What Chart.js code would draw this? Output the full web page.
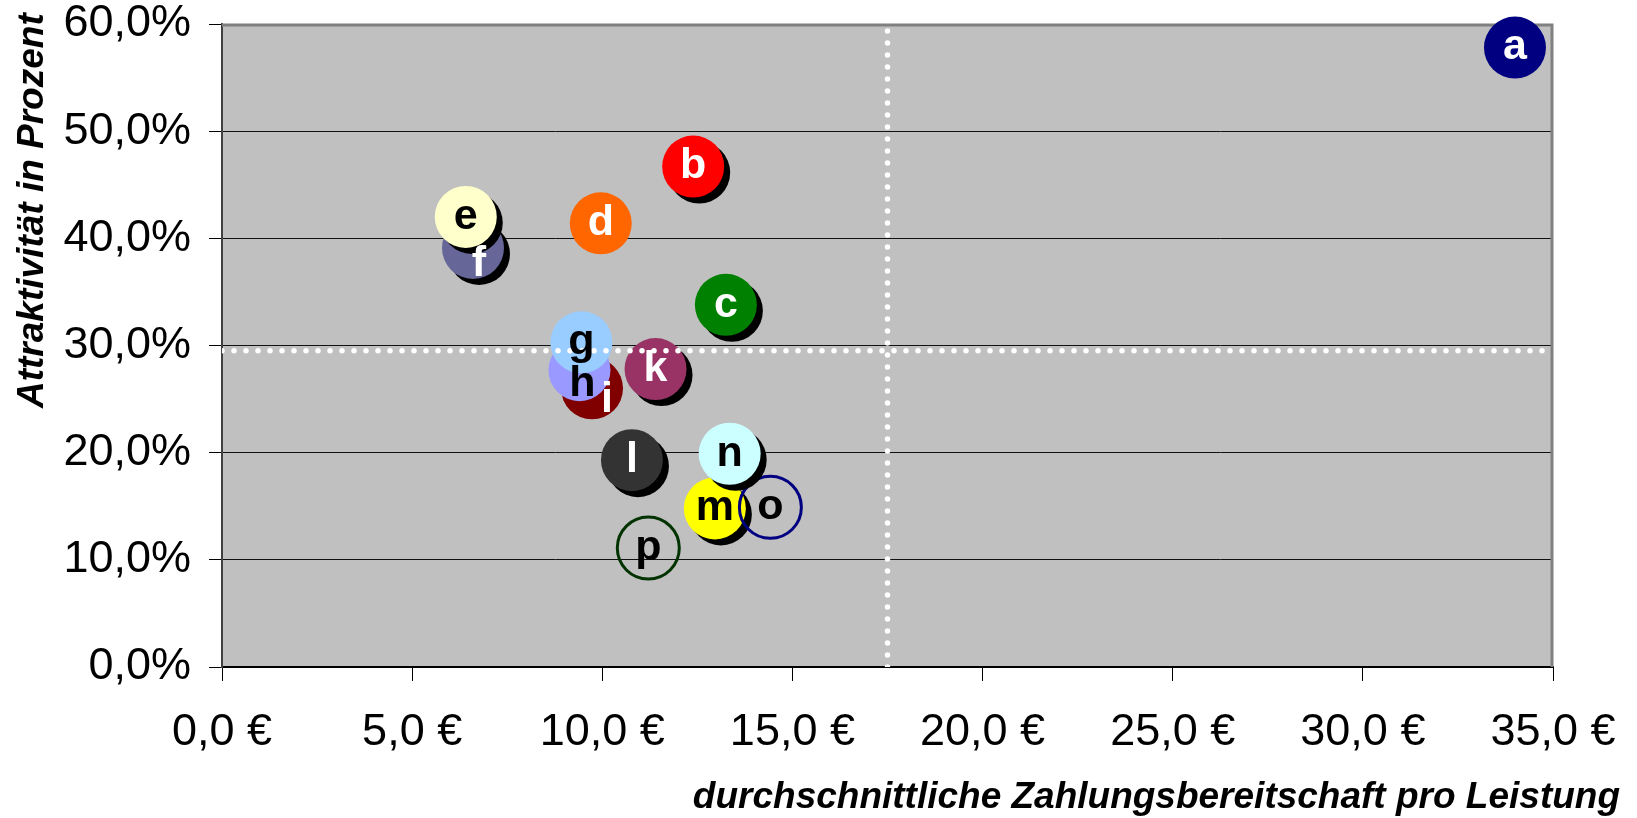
<!DOCTYPE html>
<html>
<head>
<meta charset="utf-8">
<script src="https://cdn.jsdelivr.net/npm/chart.js@4.4.0/dist/chart.umd.min.js"></script>
<style>
html, body { margin: 0; padding: 0; background: #fff; }
</style>
</head>
<body>
<canvas id="portfolio" width="1637" height="818"></canvas>
<script>
// Anbieter, listed in drawing order (first entry ends up on top)
const anbieter = ['a', 'b', 'c', 'd', 'e', 'f', 'g', 'h', 'i', 'k', 'l', 'n', 'o', 'm', 'p'];
// durchschnittliche Zahlungsbereitschaft in €
const preis = [34.0, 12.39, 13.25, 9.96, 6.41, 6.60, 9.45, 9.40, 9.73, 11.40, 10.78, 13.35, 14.42, 12.96, 11.21];
// Attraktivität in %
const attraktiv = [57.8, 46.7, 33.8, 41.4, 42.0, 39.1, 30.3, 27.7, 26.0, 27.8, 19.3, 19.9, 14.9, 14.8, 11.1];

// Mittelwerte (gepunktete Linien)
const avgPreis = 17.5;
const avgAttraktiv = 29.5;

// Achsen
const xRange = [0, 35];
const xStep = 5;
const yRange = [0, 60];
const yStep = 10;

// styles per point
const fills = ['#000080', '#FF0000', '#008000', '#FF6600', '#FFFFCC', '#666699', '#99CCFF', '#9999FF',
  '#800000', '#993366', '#333333', '#CCFFFF', 'rgba(0,0,0,0)', '#FFFF00', 'rgba(0,0,0,0)'];
const rings = ['#000080', '#FF0000', '#008000', '#FF6600', '#FFFFCC', '#666699', '#99CCFF', '#9999FF',
  '#800000', '#993366', '#333333', '#CCFFFF', '#000080', '#FFFF00', '#003300'];
const textColors = ['#fff', '#fff', '#fff', '#fff', '#000', '#fff', '#000', '#000',
  '#fff', '#fff', '#fff', '#000', '#000', '#000', '#000'];
const shadows = [false, true, true, false, true, true, false, false, false, true, true, true, false, true, false];
const labelDx = [0, 0, 0, 0, 0, 6, 0, 3, 15, 0, 0, 0, 0, 0, 0];
const labelDy = [0, 0, 0, 0, 0, 16, 0, 14, 12, 0, 0, 0, 0, 0, 0];

const FONT = "'Liberation Sans', Arial, sans-serif";

const pointSets = anbieter.map((name, i) => ({
    label: name,
    data: [{ x: preis[i], y: attraktiv[i] }],
    backgroundColor: fills[i],
    borderColor: rings[i],
    borderWidth: (i === 12 || i === 14) ? 3 : 0,
    pointRadius: 31,
    clip: false,
    shadow: shadows[i],
    tag: { color: textColors[i], dx: labelDx[i], dy: labelDy[i] },
}));

const dotted = {
    showLine: true,
    borderColor: '#ffffff',
    borderWidth: 5.5,
    borderDash: [0, 12],
    borderCapStyle: 'round',
    pointRadius: 0,
};

const lineSets = [
    Object.assign({ label: 'Mittelwert Attraktivität', data: [{ x: xRange[0], y: avgAttraktiv }, { x: xRange[1], y: avgAttraktiv }] }, dotted),
    Object.assign({ label: 'Mittelwert Zahlungsbereitschaft', data: [{ x: avgPreis, y: yRange[0] }, { x: avgPreis, y: yRange[1] }] }, dotted),
];

const plotStyle = {
    id: 'plotStyle',
    beforeDraw(chart) {
        const { ctx, chartArea: a } = chart;
        ctx.save();
        ctx.fillStyle = '#C0C0C0';
        ctx.fillRect(a.left, a.top, a.right - a.left, a.bottom - a.top);
        ctx.restore();
    },
    beforeDatasetsDraw(chart) {
        const { ctx, chartArea: a } = chart;
        ctx.save();
        ctx.strokeStyle = '#808080';
        ctx.lineWidth = 3;
        ctx.beginPath();
        ctx.moveTo(a.left, a.top + 1);
        ctx.lineTo(a.right - 1, a.top + 1);
        ctx.lineTo(a.right - 1, a.bottom);
        ctx.stroke();
        ctx.restore();
    },
    beforeDatasetDraw(chart, args) {
        const ds = chart.data.datasets[args.index];
        if (ds.shadow) {
            const ctx = chart.ctx;
            ctx.save();
            ctx.shadowColor = '#000';
            ctx.shadowOffsetX = 6;
            ctx.shadowOffsetY = 6;
            ctx.shadowBlur = 0;
        }
    },
    afterDatasetDraw(chart, args) {
        const ds = chart.data.datasets[args.index];
        if (ds.shadow) chart.ctx.restore();
    },
    afterDatasetsDraw(chart) {
        // Beschriftung der Punkte, über allen Kreisen
        const ctx = chart.ctx;
        ctx.save();
        ctx.font = 'bold 43px ' + FONT;
        ctx.textAlign = 'center';
        ctx.textBaseline = 'middle';
        chart.data.datasets.forEach((ds, i) => {
            if (!ds.tag) return;
            const pt = chart.getDatasetMeta(i).data[0];
            ctx.fillStyle = ds.tag.color;
            ctx.fillText(ds.label, pt.x + ds.tag.dx, pt.y + ds.tag.dy);
        });
        ctx.restore();
    },
    afterDraw(chart) {
        const ctx = chart.ctx;
        ctx.save();
        ctx.fillStyle = '#000';
        ctx.font = 'italic bold 37px ' + FONT;
        ctx.textAlign = 'right';
        ctx.textBaseline = 'alphabetic';
        ctx.fillText('durchschnittliche Zahlungsbereitschaft pro Leistung', 1620, 808);
        ctx.translate(43, 408);
        ctx.rotate(-Math.PI / 2);
        ctx.textAlign = 'left';
        ctx.fillText('Attraktivität in Prozent', 0, 0);
        ctx.restore();
    },
};

const ctx = document.getElementById('portfolio').getContext('2d');

const myChart = new Chart(ctx, {
    type: 'scatter',
    data: {
        datasets: [...lineSets, ...pointSets],
    },
    options: {
        responsive: false,
        animation: false,
        devicePixelRatio: 1,
        events: [],
        layout: { autoPadding: false, padding: { top: 24, right: 84, left: 0, bottom: 0 } },
        plugins: {
            legend: { display: false },
            tooltip: { enabled: false },
        },
        scales: {
            x: {
                type: 'linear',
                min: xRange[0],
                max: xRange[1],
                afterFit: (scale) => {
                    scale.height = 151;
                    scale.paddingLeft = 0;
                    scale.paddingRight = 0;
                },
                ticks: {
                    stepSize: xStep,
                    color: '#000',
                    padding: 25,
                    maxRotation: 0,
                    font: { family: FONT, size: 45 },
                    callback: (v) => v.toFixed(1).replace('.', ',') + ' €',
                },
                grid: {
                    drawOnChartArea: false,
                    tickLength: 14,
                    tickColor: '#000',
                    tickWidth: 1,
                },
                border: { color: '#000', width: 2 },
            },
            y: {
                type: 'linear',
                min: yRange[0],
                max: yRange[1],
                afterFit: (scale) => {
                    scale.width = 222;
                    scale.paddingTop = 0;
                    scale.paddingBottom = 0;
                },
                ticks: {
                    stepSize: yStep,
                    color: '#000',
                    padding: 18,
                    font: { family: FONT, size: 45 },
                    callback: (v) => v.toFixed(1).replace('.', ',') + '%',
                },
                grid: {
                    color: (c) => (c.tick && c.tick.value === yRange[1]) ? 'rgba(0,0,0,0)' : '#111',
                    lineWidth: 1,
                    tickLength: 13,
                    tickColor: '#000',
                    tickWidth: 1,
                },
                border: { color: '#404040', width: 2 },
            },
        },
    },
    plugins: [plotStyle],
});
</script>
</body>
</html>
